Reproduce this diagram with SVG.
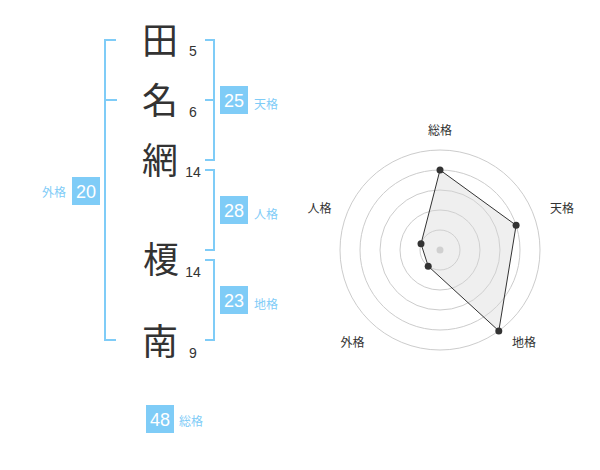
<svg xmlns="http://www.w3.org/2000/svg" width="600" height="470" viewBox="0 0 600 470">
<style>
.kanji{font-family:"Noto Sans CJK JP","Noto Sans CJK SC",sans-serif;font-size:36px;fill:#333;text-anchor:middle}
.num{font-family:"Liberation Sans",Arial,sans-serif;font-size:14px;fill:#333;text-anchor:middle}
.box{fill:#7fccf7}
.boxnum{font-family:"Liberation Sans",Arial,sans-serif;font-size:18px;fill:#fff;text-anchor:middle}
.lbl{font-family:"Noto Sans CJK JP","Noto Sans CJK SC",sans-serif;font-size:12px;fill:#7fccf7}
.br{fill:none;stroke:#7fccf7;stroke-width:2}
.ring{fill:none;stroke:#cccccc;stroke-width:1}
.axl{font-family:"Noto Sans CJK JP","Noto Sans CJK SC",sans-serif;font-size:12px;fill:#333;text-anchor:middle}
.pt{fill:#333}
</style>
<rect width="600" height="470" fill="#fff"/>
<g id="connectors">
<path class="br" d="M116,40 H105 V340 H116 M105,100 H117"/>
<path class="br" d="M205,40 H214 V160 H205 M214,100 H205"/>
<path class="br" d="M205,170 H214 V250 H205"/>
<path class="br" d="M205,260 H214 V340 H205"/>
</g>
<g id="char-1"><text class="kanji" x="160" y="54">田</text><text class="num" x="193" y="56">5</text></g>
<g id="char-2"><text class="kanji" x="160" y="114">名</text><text class="num" x="193" y="117">6</text></g>
<g id="char-3"><text class="kanji" x="160" y="174">網</text><text class="num" x="193" y="177">14</text></g>
<g id="char-4"><text class="kanji" x="161" y="273">榎</text><text class="num" x="193" y="277">14</text></g>
<g id="char-5"><text class="kanji" x="160" y="355">南</text><text class="num" x="193" y="358">9</text></g>
<g id="tenkaku"><rect class="box" x="220" y="86" width="28" height="28"/><text class="boxnum" x="234" y="107">25</text><text class="lbl" x="254" y="109">天格</text></g>
<g id="jinkaku"><rect class="box" x="220" y="196" width="28" height="28"/><text class="boxnum" x="234" y="217">28</text><text class="lbl" x="254" y="219">人格</text></g>
<g id="chikaku"><rect class="box" x="220" y="286" width="28" height="28"/><text class="boxnum" x="234" y="307">23</text><text class="lbl" x="254" y="309">地格</text></g>
<g id="gaikaku"><rect class="box" x="72" y="177" width="28" height="28"/><text class="boxnum" x="86" y="198">20</text><text class="lbl" x="66" y="197" text-anchor="end">外格</text></g>
<g id="soukaku"><rect class="box" x="146" y="405" width="28" height="28"/><text class="boxnum" x="160" y="426">48</text><text class="lbl" x="179" y="426">総格</text></g>
<g id="radar">
<circle class="ring" cx="440" cy="250" r="20"/>
<circle class="ring" cx="440" cy="250" r="40"/>
<circle class="ring" cx="440" cy="250" r="60"/>
<circle class="ring" cx="440" cy="250" r="80"/>
<circle class="ring" cx="440" cy="250" r="100"/>
<circle cx="440" cy="250" r="3.5" fill="#cccccc"/>
<polygon points="440,170 516.1,225.3 498.8,330.9 428.2,266.2 421,243.8" fill="#d8d8d8" fill-opacity="0.4" stroke="#333" stroke-width="1"/>
<circle class="pt" cx="440" cy="170" r="3.5"/>
<circle class="pt" cx="516.1" cy="225.3" r="3.5"/>
<circle class="pt" cx="498.8" cy="330.9" r="3.5"/>
<circle class="pt" cx="428.2" cy="266.2" r="3.5"/>
<circle class="pt" cx="421" cy="243.8" r="3.5"/>
<text class="axl" x="440" y="135">総格</text>
<text class="axl" x="562" y="213">天格</text>
<text class="axl" x="524" y="347">地格</text>
<text class="axl" x="352.5" y="347">外格</text>
<text class="axl" x="319.5" y="213">人格</text>
</g>
</svg>
